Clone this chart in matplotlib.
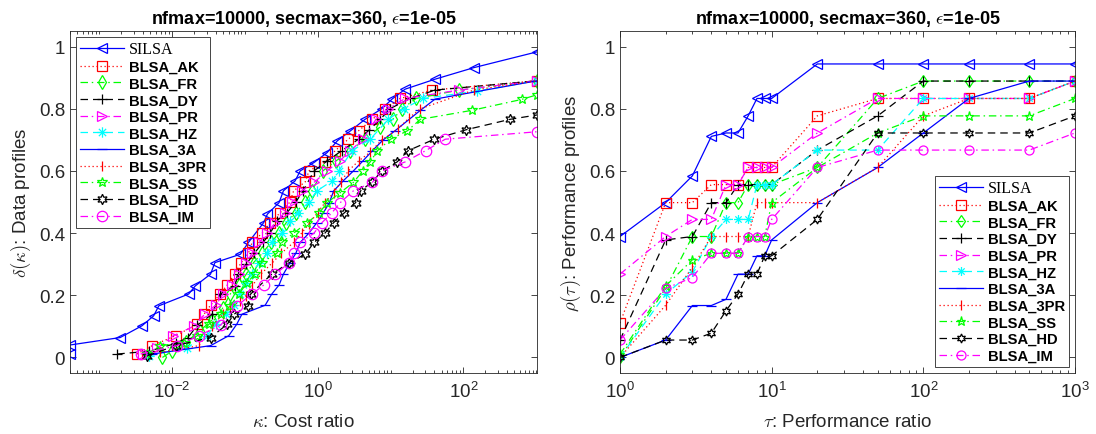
import numpy as np
import matplotlib
matplotlib.use('Agg')
import matplotlib.pyplot as plt
from matplotlib.path import Path
from matplotlib.ticker import LogLocator, NullFormatter

plt.rcParams['font.family'] = ['Liberation Sans', 'DejaVu Sans']
plt.rcParams['mathtext.fontset'] = 'cm'

# ---------------- data ----------------
labels = ['SILSA', 'BLSA_AK', 'BLSA_FR', 'BLSA_DY', 'BLSA_PR', 'BLSA_HZ',
          'BLSA_3A', 'BLSA_3PR', 'BLSA_SS', 'BLSA_HD', 'BLSA_IM']

# Data profiles (left): log10(kappa) and delta(kappa)
silsa_lk = [-3.40, -3.40, -2.71, -2.41, -2.25, -2.18, -1.77, -1.68, -1.47, -1.41, -1.06, -0.95,
            -0.74, -0.69, -0.53, -0.47, -0.31, -0.24, -0.05, 0.13, 0.27, 0.45, 0.65, 0.88,
            1.02, 1.20, 1.61, 2.14, 3.01]
silsa_d = [0.011, 0.040, 0.064, 0.102, 0.134, 0.166, 0.204, 0.230, 0.268, 0.305, 0.332, 0.370,
           0.434, 0.461, 0.498, 0.536, 0.568, 0.600, 0.627, 0.659, 0.697, 0.729, 0.766, 0.800,
           0.831, 0.863, 0.895, 0.932, 0.983]

ak_lk = [-2.48, -2.27, -1.95, -1.65, -1.56, -1.47, -1.34, -1.24, -1.14, -1.05, -0.95, -0.90,
         -0.76, -0.65, -0.52, -0.38, -0.33, -0.17, -0.12, 0.10, 0.24, 0.42, 0.56, 0.75,
         0.93, 1.13, 1.57, 3.01]
ak_d = [0.011, 0.038, 0.070, 0.107, 0.139, 0.168, 0.204, 0.233, 0.268, 0.305, 0.335, 0.370,
        0.400, 0.434, 0.464, 0.500, 0.536, 0.565, 0.600, 0.629, 0.665, 0.702, 0.729, 0.766,
        0.800, 0.833, 0.860, 0.890]

fr_lk = [-2.13, -2.00, -1.80, -1.62, -1.45, -1.30, -1.20, -1.08, -0.98, -0.88, -0.76, -0.64,
         -0.53, -0.43, -0.30, -0.17, -0.08, 0.07, 0.25, 0.45, 0.65, 0.85, 1.03, 1.16,
         1.35, 1.94, 3.01]
fr_d = [0.000, 0.020, 0.050, 0.085, 0.120, 0.160, 0.204, 0.233, 0.268, 0.305, 0.335, 0.370,
        0.400, 0.434, 0.466, 0.500, 0.536, 0.600, 0.632, 0.665, 0.702, 0.740, 0.766, 0.800,
        0.833, 0.860, 0.890]

dy_lk = [-2.75, -2.32, -1.95, -1.78, -1.65, -1.45, -1.34, -1.13, -1.10, -0.98, -0.87, -0.75,
         -0.65, -0.56, -0.42, -0.30, -0.20, -0.05, 0.13, 0.33, 0.56, 0.70, 0.86, 0.99,
         1.27, 1.61, 3.01]
dy_d = [0.011, 0.020, 0.045, 0.064, 0.104, 0.139, 0.204, 0.230, 0.268, 0.300, 0.335, 0.370,
        0.400, 0.440, 0.466, 0.500, 0.536, 0.600, 0.632, 0.665, 0.702, 0.730, 0.766, 0.800,
        0.833, 0.860, 0.890]

pr_lk = [-2.40, -2.20, -1.98, -1.70, -1.55, -1.39, -1.30, -1.18, -1.08, -0.99, -0.90, -0.80,
         -0.70, -0.58, -0.45, -0.35, -0.22, -0.05, 0.13, 0.30, 0.45, 0.62, 0.80, 0.97,
         1.20, 1.94, 3.01]
pr_d = [0.011, 0.030, 0.070, 0.100, 0.139, 0.170, 0.204, 0.233, 0.268, 0.305, 0.335, 0.370,
        0.400, 0.434, 0.466, 0.500, 0.536, 0.563, 0.600, 0.632, 0.665, 0.702, 0.766, 0.800,
        0.833, 0.860, 0.890]

hz_lk = [-2.32, -1.79, -1.52, -1.40, -1.26, -1.15, -1.06, -0.99, -0.90, -0.80, -0.69, -0.63,
         -0.49, -0.38, -0.27, -0.12, -0.01, 0.20, 0.29, 0.47, 0.72, 0.97, 1.18, 1.45,
         2.19, 3.01]
hz_d = [0.005, 0.032, 0.070, 0.107, 0.139, 0.170, 0.204, 0.240, 0.268, 0.305, 0.335, 0.370,
        0.400, 0.440, 0.466, 0.500, 0.536, 0.568, 0.600, 0.665, 0.702, 0.766, 0.800, 0.833,
        0.857, 0.890]

a3_lk = [-2.27, -1.47, -1.22, -1.11, -1.04, -0.72, -0.63, -0.53, -0.47, -0.38, -0.30, -0.24,
         -0.12, -0.01, 0.08, 0.16, 0.22, 0.35, 0.49, 0.62, 0.75, 0.90, 1.06, 1.41,
         1.61, 3.01]
a3_d = [0.011, 0.038, 0.070, 0.107, 0.139, 0.168, 0.204, 0.233, 0.268, 0.305, 0.335, 0.370,
        0.400, 0.434, 0.466, 0.498, 0.536, 0.568, 0.600, 0.632, 0.665, 0.700, 0.729, 0.795,
        0.831, 0.890]

p3_lk = [-2.16, -1.63, -1.45, -1.30, -1.20, -1.06, -0.99, -0.90, -0.78, -0.62, -0.50, -0.33,
         -0.22, -0.12, 0.00, 0.10, 0.22, 0.32, 0.42, 0.56, 0.72, 0.88, 1.10, 1.25,
         1.41, 2.14, 3.01]
p3_d = [0.016, 0.038, 0.100, 0.140, 0.166, 0.180, 0.198, 0.230, 0.268, 0.305, 0.335, 0.370,
        0.400, 0.430, 0.466, 0.498, 0.530, 0.565, 0.600, 0.632, 0.660, 0.700, 0.734, 0.770,
        0.800, 0.860, 0.890]

ss_lk = [-2.34, -2.16, -1.83, -1.65, -1.49, -1.33, -1.20, -1.08, -0.97, -0.86, -0.77, -0.56,
         -0.49, -0.33, -0.14, 0.02, 0.13, 0.31, 0.49, 0.62, 0.72, 0.82, 1.00, 1.23,
         1.41, 2.12, 2.80, 3.01]
ss_d = [0.011, 0.038, 0.048, 0.070, 0.107, 0.139, 0.166, 0.204, 0.240, 0.268, 0.305, 0.335,
        0.370, 0.400, 0.434, 0.464, 0.498, 0.530, 0.563, 0.600, 0.629, 0.665, 0.702, 0.729,
        0.766, 0.795, 0.830, 0.845]

hd_lk = [-2.34, -1.95, -1.47, -1.24, -1.15, -0.95, -0.92, -0.63, -0.39, -0.17, -0.05, 0.10,
         0.22, 0.36, 0.52, 0.59, 0.75, 0.88, 1.09, 1.24, 1.60, 2.03, 2.64, 3.01]
hd_d = [0.005, 0.038, 0.064, 0.107, 0.139, 0.166, 0.204, 0.268, 0.305, 0.332, 0.370, 0.400,
        0.434, 0.464, 0.498, 0.536, 0.565, 0.600, 0.629, 0.665, 0.702, 0.732, 0.766, 0.780]

im_lk = [-2.43, -1.93, -1.63, -1.33, -1.11, -0.90, -0.74, -0.58, -0.39, -0.33, -0.24, -0.05,
         0.06, 0.19, 0.31, 0.49, 0.75, 0.88, 1.20, 1.48, 1.75, 3.01]
im_d = [0.011, 0.038, 0.070, 0.104, 0.166, 0.204, 0.233, 0.268, 0.305, 0.335, 0.370, 0.400,
        0.434, 0.464, 0.498, 0.536, 0.563, 0.600, 0.629, 0.665, 0.702, 0.726]

data_lk = [silsa_lk, ak_lk, fr_lk, dy_lk, pr_lk, hz_lk, a3_lk, p3_lk, ss_lk, hd_lk, im_lk]
data_d = [silsa_d, ak_d, fr_d, dy_d, pr_d, hz_d, a3_d, p3_d, ss_d, hd_d, im_d]

# Performance profiles (right)
tau = [1, 2, 3, 4, 5, 6, 7, 8, 9, 10, 20, 50, 100, 200, 500, 1000]
silsa_r = [0.389, 0.498, 0.584, 0.711, 0.722, 0.722, 0.777, 0.833, 0.833, 0.833, 0.944, 0.944, 0.944, 0.944, 0.944, 0.944]
ak_r    = [0.111, 0.498, 0.498, 0.556, 0.556, 0.556, 0.611, 0.611, 0.611, 0.611, 0.777, 0.833, 0.833, 0.833, 0.833, 0.889]
fr_r    = [0.000, 0.222, 0.389, 0.389, 0.498, 0.498, 0.556, 0.556, 0.556, 0.556, 0.611, 0.833, 0.889, 0.889, 0.889, 0.889]
dy_r    = [0.056, 0.378, 0.389, 0.498, 0.498, 0.556, 0.556, 0.556, 0.556, 0.556, 0.667, 0.777, 0.889, 0.889, 0.889, 0.889]
pr_r    = [0.268, 0.389, 0.444, 0.444, 0.556, 0.556, 0.611, 0.611, 0.611, 0.611, 0.722, 0.833, 0.833, 0.833, 0.833, 0.889]
hz_r    = [0.000, 0.204, 0.275, 0.389, 0.444, 0.444, 0.444, 0.556, 0.556, 0.556, 0.667, 0.667, 0.833, 0.833, 0.833, 0.889]
a3_r    = [0.000, 0.056, 0.167, 0.167, 0.187, 0.268, 0.268, 0.327, 0.327, 0.378, 0.498, 0.611, 0.722, 0.833, 0.889, 0.889]
p3_r    = [0.000, 0.168, 0.290, 0.389, 0.389, 0.389, 0.389, 0.498, 0.498, 0.498, 0.498, 0.611, 0.777, 0.833, 0.833, 0.889]
ss_r    = [0.010, 0.230, 0.314, 0.335, 0.335, 0.335, 0.389, 0.389, 0.389, 0.498, 0.611, 0.722, 0.777, 0.777, 0.777, 0.833]
hd_r    = [0.000, 0.056, 0.056, 0.078, 0.150, 0.204, 0.268, 0.268, 0.327, 0.327, 0.444, 0.722, 0.722, 0.722, 0.722, 0.777]
im_r    = [0.056, 0.222, 0.257, 0.335, 0.335, 0.335, 0.389, 0.389, 0.389, 0.444, 0.611, 0.667, 0.667, 0.667, 0.667, 0.722]
data_r = [silsa_r, ak_r, fr_r, dy_r, pr_r, hz_r, a3_r, p3_r, ss_r, hd_r, im_r]

# ---------------- styles ----------------
ast = Path([(-1, 0), (1, 0), (0, -1), (0, 1), (-0.7, -0.7), (0.7, 0.7), (-0.7, 0.7), (0.7, -0.7)],
           [Path.MOVETO, Path.LINETO] * 4)
colors = ['#0000ff', '#ff0000', '#00ff00', '#000000', '#ff00ff', '#00ffff',
          '#0000ff', '#ff0000', '#00ff00', '#000000', '#ff00ff']
DASH = (0, (6, 4))
DASHDOT = (0, (6, 3, 1.2, 3))
DOT = (0, (1, 2.2))
styles = ['-', DOT, DASHDOT, DASH, DASHDOT, DASH, '-', DOT, DASHDOT, DASH, DASHDOT]
markers = ['<', 's', 'd', '+', '>', ast, '_', '|', '*', (6, 1, 0), 'o']

fig = plt.figure(figsize=(10.96, 4.35), dpi=100)
axL = fig.add_axes([70 / 1096, 61 / 435, 467 / 1096, 342 / 435])
axR = fig.add_axes([620 / 1096, 61 / 435, 455 / 1096, 342 / 435])

tc = '#262626'
for i in range(len(labels)):
    axL.plot(np.power(10.0, data_lk[i]), data_d[i], linestyle=styles[i], color=colors[i],
             marker=markers[i], markersize=7.5, markerfacecolor='none', markeredgewidth=0.9,
             linewidth=0.9, label=labels[i])
    axR.plot(tau, data_r[i], linestyle=styles[i], color=colors[i],
             marker=markers[i], markersize=6.5, markerfacecolor='none', markeredgewidth=0.9,
             linewidth=0.9, label=labels[i])

title = r'nfmax=10000, secmax=360, $\epsilon$=1e-05'
for ax in (axL, axR):
    ax.set_xscale('log')
    ax.set_ylim(-0.05, 1.05)
    ax.set_yticks([0, 0.2, 0.4, 0.6, 0.8, 1])
    ax.set_yticklabels(['0', '0.2', '0.4', '0.6', '0.8', '1'])
    ax.xaxis.set_minor_locator(LogLocator(base=10, subs=np.arange(1, 10), numticks=100))
    ax.xaxis.set_minor_formatter(NullFormatter())
    ax.tick_params(which='both', direction='in', top=True, right=True, colors=tc,
                   labelsize=13.5, width=0.6)
    ax.tick_params(axis='x', which='both', pad=6)
    ax.tick_params(which='major', length=4.5)
    ax.tick_params(which='minor', length=2.5)
    for s in ax.spines.values():
        s.set_color(tc)
        s.set_linewidth(0.6)
    ax.set_title(title, fontsize=13, fontweight='bold', pad=6)

axL.set_xlim(4e-4, 1.02e3)
axL.set_xticks([1e-2, 1, 1e2])
axR.set_xlim(1, 1000)
axR.set_xticks([1, 10, 100, 1000])

axL.set_xlabel(r'$\kappa$: Cost ratio', fontsize=13.5, color=tc, labelpad=8)
axL.set_ylabel(r'$\delta(\kappa)$: Data profiles', fontsize=13.5, color=tc, labelpad=4)
axR.set_xlabel(r'$\tau$: Performance ratio', fontsize=13.5, color=tc, labelpad=8)
axR.set_ylabel(r'$\rho(\tau)$: Performance profiles', fontsize=13.5, color=tc, labelpad=4)

legkw = dict(fancybox=False, edgecolor=tc, framealpha=1, borderpad=0.3, labelspacing=0.18,
             handlelength=3.0, handletextpad=0.3, borderaxespad=0.4,
             prop={'weight': 'bold', 'size': 10.6})
legL = axL.legend(loc='upper left', **legkw)
legR = axR.legend(loc='lower right', **legkw)
for leg in (legL, legR):
    leg.get_frame().set_linewidth(0.6)
    t0 = leg.get_texts()[0]
    t0.set_fontfamily('Liberation Serif')
    t0.set_fontweight('normal')
    t0.set_fontsize(11.5)

fig.savefig('out.png', dpi=100)
